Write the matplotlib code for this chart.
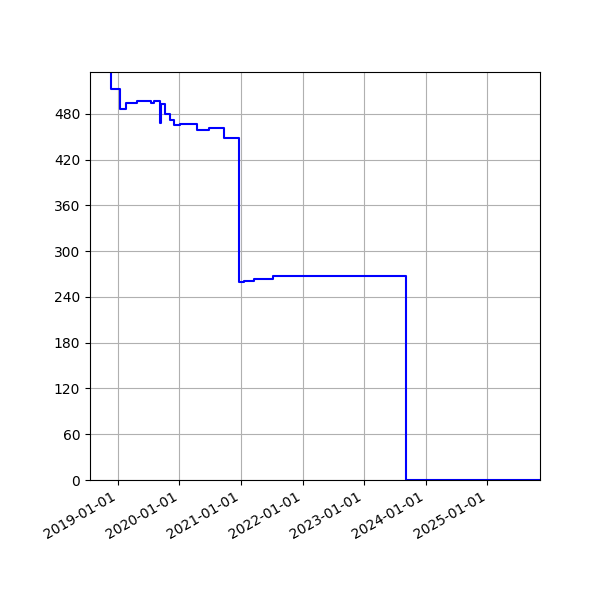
import matplotlib
matplotlib.use("Agg")
import matplotlib.pyplot as plt
import matplotlib.dates as mdates
import numpy as np
import pandas as pd

# change dates and the value that holds from each date on
dates = ["2018-07-19", "2018-11-23", "2019-01-11", "2019-02-20", "2019-04-24",
         "2019-07-18", "2019-08-03", "2019-09-09", "2019-09-15", "2019-10-05",
         "2019-11-06", "2019-12-02", "2020-01-02", "2020-04-15", "2020-06-24",
         "2020-09-20", "2020-12-18", "2021-01-16", "2021-03-21", "2021-07-06",
         "2023-09-06", "2025-11-09"]
values = [560, 513, 486, 494, 497,
          494, 497, 468, 493, 480,
          472, 465, 467, 459, 461,
          449, 259, 261, 264, 268,
          0, 0]

x = pd.to_datetime(dates)
y = np.array(values)

fig = plt.figure(figsize=(6, 6), dpi=100)
ax = fig.add_axes([0.15, 0.2, 0.75, 0.68])
ax.step(x, y, where="post", color="blue")

ax.set_xlim(x[0], x[-1])
ax.set_ylim(0, 535)
ax.set_yticks(np.arange(0, 481, 60))
ax.xaxis.set_major_locator(mdates.YearLocator())
ax.xaxis.set_major_formatter(mdates.DateFormatter("%Y-%m-%d"))
ax.grid(True)
for lbl in ax.get_xticklabels():
    lbl.set_rotation(30)
    lbl.set_ha("right")

fig.savefig("out.png")
